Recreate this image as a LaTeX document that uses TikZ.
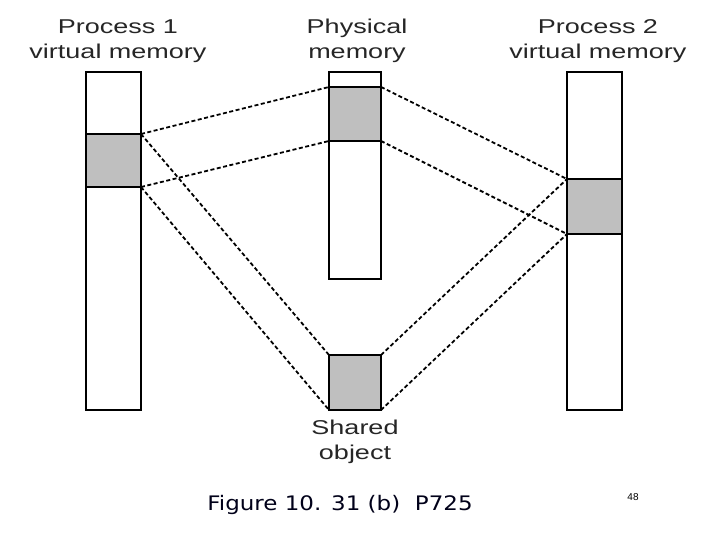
\documentclass[tikz,border=0pt]{standalone}
\usepackage{fontspec}
\setmainfont{Liberation Sans}
\newfontfamily\capfont{DejaVu Sans}
\begin{document}
\begin{tikzpicture}[x=1pt,y=-1pt,
  box/.style={draw,line width=1.6pt,fill=white,inner sep=0,outer sep=0},
  gbox/.style={draw,line width=1.6pt,fill=gray!50,inner sep=0,outer sep=0},
  dl/.style={line width=1.8pt,dash pattern=on 4pt off 2.5pt},
  lbl/.style={align=center,font=\fontsize{20}{25}\selectfont,text=black!85,xscale=1.35}]
\useasboundingbox[fill=white] (0,0) rectangle (720,540);
\node[box,minimum width=55,minimum height=338] (p1) at (113.5,241) {};
\node[gbox,minimum width=55,minimum height=53] (p1g) at (113.5,160.5) {};
\node[box,minimum width=52,minimum height=207] (ph) at (355,175.5) {};
\node[gbox,minimum width=52,minimum height=54] (phg) at (355,114) {};
\node[box,minimum width=55,minimum height=338] (p2) at (594.5,241) {};
\node[gbox,minimum width=55,minimum height=55] (p2g) at (594.5,206.5) {};
\node[gbox,minimum width=52,minimum height=55] (sh) at (355,382.5) {};
\draw[dl] (p1g.north east) -- (phg.north west);
\draw[dl] (p1g.south east) -- (phg.south west);
\draw[dl] (p1g.north east) -- (sh.north west);
\draw[dl] (p1g.south east) -- (sh.south west);
\draw[dl] (phg.north east) -- (p2g.north west);
\draw[dl] (phg.south east) -- (p2g.south west);
\draw[dl] (sh.north east) -- (p2g.north west);
\draw[dl] (sh.south east) -- (p2g.south west);
\node[lbl] (t1) at (118,41) {Process 1\\virtual memory};
\node[lbl] (t2) at (357,41) {Physical\\memory};
\node[lbl] (t3) at (598,41) {Process 2\\virtual memory};
\node[lbl] (t4) at (355,442) {Shared\\object};
\node[font=\capfont\fontsize{20}{24}\selectfont,text=black!90!blue,xscale=1.15] (cap) at (340,505) {Figure 10. 31 (b)\ \ P725};
\node[font=\fontsize{10}{12}\selectfont] (pg) at (633,497) {48};
\end{tikzpicture}
\end{document}
